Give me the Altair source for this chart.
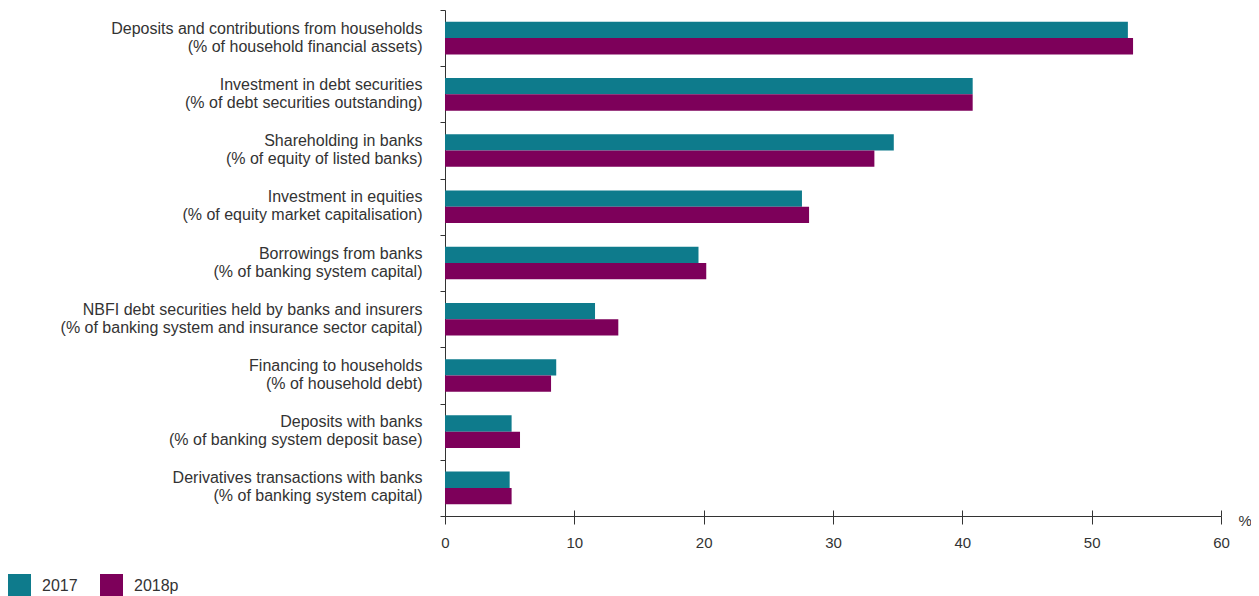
import altair as alt
import pandas as pd

categories = [
    "Deposits and contributions from households|(% of household financial assets)",
    "Investment in debt securities|(% of debt securities outstanding)",
    "Shareholding in banks|(% of equity of listed banks)",
    "Investment in equities|(% of equity market capitalisation)",
    "Borrowings from banks|(% of banking system capital)",
    "NBFI debt securities held by banks and insurers|(% of banking system and insurance sector capital)",
    "Financing to households|(% of household debt)",
    "Deposits with banks|(% of banking system deposit base)",
    "Derivatives transactions with banks|(% of banking system capital)",
]
series = ["2017", "2018p"]
values_2017 = [52.8, 40.8, 34.7, 27.6, 19.6, 11.6, 8.6, 5.15, 5.0]
values_2018p = [53.2, 40.8, 33.2, 28.15, 20.2, 13.4, 8.2, 5.8, 5.15]
x_ticks = [0, 10, 20, 30, 40, 50, 60]
colors = ["#0E7B8C", "#7D005A"]

rows = []
for c, a, b in zip(categories, values_2017, values_2018p):
    rows.append({"category": c, "series": series[0], "value": a})
    rows.append({"category": c, "series": series[1], "value": b})
df = pd.DataFrame(rows)

FONT = "Liberation Sans"
TXT = "#333333"

bars = alt.Chart(df).mark_bar().encode(
    y=alt.Y(
        "category:N",
        sort=categories,
        scale=alt.Scale(paddingInner=0, paddingOuter=0),
        axis=alt.Axis(
            title=None,
            labelExpr="split(datum.label, '|')",
            tickBand="extent",
            labelAlign="right",
            labelBaseline="middle",
            labelPadding=18,
            labelOffset=-10,
            labelFontSize=16,
            labelLineHeight=18,
            labelLimit=0,
            tickSize=5,
            labelColor=TXT,
            tickColor=TXT,
            domainColor=TXT,
        ),
    ),
    x=alt.X(
        "value:Q",
        scale=alt.Scale(domain=[0, 60], nice=False),
        axis=alt.Axis(
            orient="bottom",
            values=x_ticks,
            title="%",
            titleX=793,
            titleY=4,
            titleAlign="left",
            titleBaseline="middle",
            titleFontWeight="normal",
            titleFontSize=15,
            titleColor=TXT,
            labelFontSize=15,
            labelColor=TXT,
            labelPadding=11,
            labelFlush=False,
            tickSize=8,
            tickColor=TXT,
            domainColor=TXT,
            grid=False,
        ),
    ),
    yOffset=alt.YOffset(
        "series:N", sort=series, scale=alt.Scale(paddingInner=0, paddingOuter=0.725)
    ),
    color=alt.Color(
        "series:N",
        sort=series,
        scale=alt.Scale(domain=series, range=colors),
        legend=alt.Legend(
            title=None,
            orient="none",
            legendX=-437,
            legendY=564,
            direction="horizontal",
            symbolType="square",
            symbolSize=529,
            symbolStrokeWidth=0,
            symbolOpacity=1,
            labelFontSize=16,
            labelColor=TXT,
            labelOffset=11,
            columnPadding=22,
            padding=0,
        ),
    ),
)

upticks = alt.Chart(df).mark_point(opacity=0).encode(
    x=alt.X(
        "value:Q",
        scale=alt.Scale(domain=[0, 60], nice=False),
        axis=alt.Axis(
            orient="bottom",
            values=x_ticks,
            offset=-6,
            tickSize=6,
            tickColor=TXT,
            domain=False,
            labels=False,
            title=None,
            grid=False,
        ),
    ),
)

chart = (
    alt.layer(bars, upticks)
    .resolve_axis(x="independent")
    .properties(
        width=776,
        height=506,
        padding={"left": 437, "top": 2, "right": 30, "bottom": 80},
        autosize=alt.AutoSizeParams(type="none"),
    )
    .configure(font=FONT)
    .configure_view(strokeWidth=0, stroke=None)
)

chart.save("out.html", embed_options={"renderer": "svg", "actions": False})
